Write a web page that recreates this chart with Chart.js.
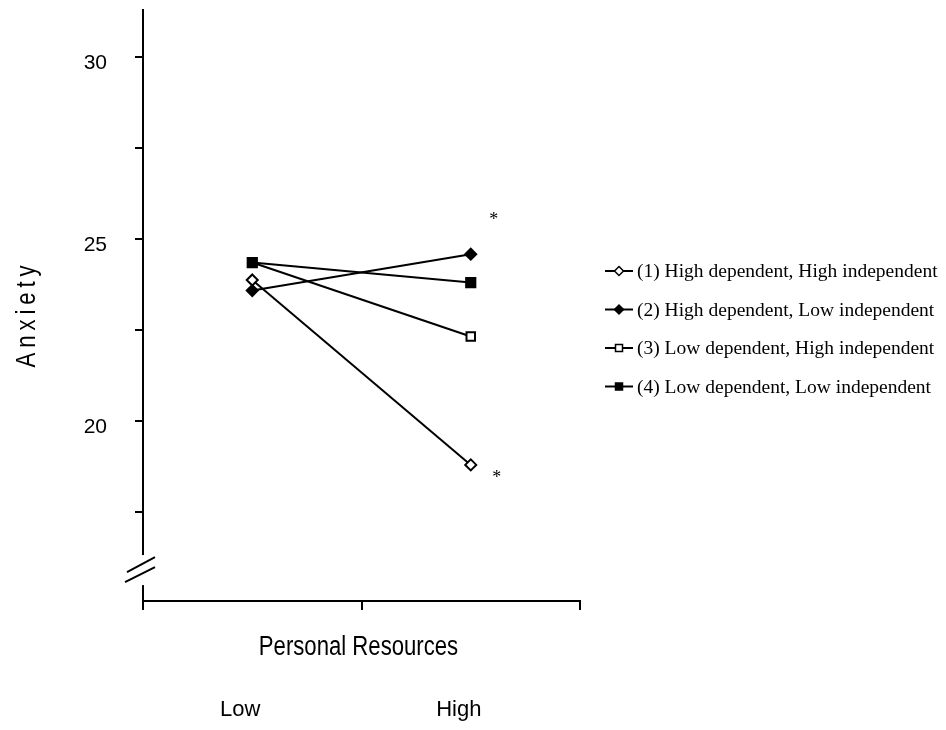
<!DOCTYPE html>
<html>
<head>
<meta charset="utf-8">
<title>Anxiety by Personal Resources</title>
<script src="https://cdn.jsdelivr.net/npm/chart.js@4.4.1/dist/chart.umd.min.js"></script>
<style>
  html, body { margin: 0; padding: 0; background: #fff; }
  canvas { display: block; }
</style>
</head>
<body>
<canvas id="chart" width="946" height="730"></canvas>
<script>
// ----- data -----
const levels = ['Low', 'High'];
const groupLabels = [
  '(1) High dependent, High independent',
  '(2) High dependent, Low independent',
  '(3) Low dependent, High independent',
  '(4) Low dependent, Low independent'
];
const group1 = [23.87, 18.79];
const group2 = [23.58, 24.58];
const group3 = [24.35, 22.32];
const group4 = [24.35, 23.80];
const yTicks = [17.5, 20, 22.5, 25, 27.5, 30];
const yLabelled = [20, 25, 30];
const starValues = [25.6, 18.52];   // significance asterisks beside "High"
const starShift = [23, 26];

const sans = '"Liberation Sans", Arial, sans-serif';
const serif = '"Liberation Serif", "Times New Roman", serif';
const squeeze = 0.82;   // fake the narrow face of the original

const series = [group1, group2, group3, group4];
const markStyle = ['rectRot', 'rectRot', 'rect', 'rect'];
const markFill = ['#fff', '#000', '#fff', '#000'];
const markRadius = [5.5, 5.5, 6, 6.5];

const datasets = series.map((vals, i) => ({
  label: groupLabels[i],
  data: vals,
  borderColor: '#000',
  borderWidth: 2,
  tension: 0,
  pointStyle: markStyle[i],
  pointRadius: markRadius[i],
  pointBackgroundColor: markFill[i],
  pointBorderColor: '#000',
  pointBorderWidth: 2,
  order: i === 3 ? 0 : 1   // filled square sits on top at "Low"
}));

function marker(ctx, style, fill, x, y, r) {
  ctx.beginPath();
  if (style === 'rectRot') {
    ctx.moveTo(x, y - r); ctx.lineTo(x + r, y); ctx.lineTo(x, y + r); ctx.lineTo(x - r, y);
  } else {
    ctx.rect(x - r, y - r, 2 * r, 2 * r);
  }
  ctx.closePath();
  ctx.fillStyle = fill;
  ctx.fill();
  ctx.stroke();
}

function narrowText(ctx, text, x, y, size, rot) {
  ctx.save();
  ctx.translate(x, y);
  if (rot) ctx.rotate(rot);
  ctx.scale(squeeze, 1);
  ctx.font = size + 'px ' + sans;
  ctx.fillText(text, 0, 0);
  ctx.restore();
}

const extras = {
  id: 'extras',
  afterDraw(chart) {
    const { ctx, chartArea, scales: { x, y } } = chart;
    ctx.save();

    // broken y axis
    const by = y.getPixelForValue(15.9);
    const ax = chartArea.left;
    ctx.fillStyle = '#fff';
    ctx.fillRect(ax - 5, by - 15, 10, 30);
    ctx.strokeStyle = '#000';
    ctx.lineWidth = 2;
    ctx.beginPath();
    ctx.moveTo(ax - 18, by + 12); ctx.lineTo(ax + 12, by - 3);
    ctx.moveTo(ax - 16, by + 2); ctx.lineTo(ax + 12, by - 13);
    ctx.stroke();

    ctx.fillStyle = '#000';
    ctx.textAlign = 'center';
    ctx.textBaseline = 'middle';

    // y title, letter spaced
    ctx.letterSpacing = '6px';
    narrowText(ctx, 'Anxiety', 28, 314, 27, -Math.PI / 2);
    ctx.letterSpacing = '0px';

    // x title sits between the axis and the Low/High labels
    narrowText(ctx, 'Personal Resources', (chartArea.left + chartArea.right) / 2 - 3, 648, 27);

    // asterisks
    ctx.font = '18px ' + serif;
    ctx.textBaseline = 'alphabetic';
    starValues.forEach((v, i) => {
      ctx.fillText('*', x.getPixelForValue(1) + starShift[i], y.getPixelForValue(v) + 8);
    });

    // legend
    ctx.font = '19.5px ' + serif;
    ctx.textAlign = 'left';
    ctx.textBaseline = 'middle';
    chart.data.datasets.forEach((ds, i) => {
      const ry = 271 + i * 38.5;
      ctx.strokeStyle = '#000';
      ctx.lineWidth = 2;
      ctx.beginPath();
      ctx.moveTo(605, ry); ctx.lineTo(633, ry);
      ctx.stroke();
      ctx.lineWidth = 1.5;
      marker(ctx, markStyle[i], markFill[i], 619, ry, markStyle[i] === 'rect' ? 3.5 : 4.5);
      ctx.fillStyle = '#000';
      ctx.fillText(ds.label, 637, ry + 1);
    });

    ctx.restore();
  }
};

new Chart(document.getElementById('chart'), {
  type: 'line',
  data: { labels: levels, datasets },
  plugins: [extras],
  options: {
    responsive: false,
    animation: false,
    events: [],
    layout: { padding: { top: 10, right: 366, bottom: 0, left: 0 } },
    plugins: { legend: { display: false }, tooltip: { enabled: false } },
    scales: {
      x: {
        offset: true,
        grid: { offset: true, drawOnChartArea: false, drawTicks: true, tickLength: 9, color: '#000', lineWidth: 2 },
        border: { display: true, color: '#000', width: 2 },
        ticks: { color: '#000', font: { family: sans, size: 22 }, padding: 87, labelOffset: -12 },
        afterFit: (s) => { s.height = 129; s.paddingLeft = 0; s.paddingRight = 0; }
      },
      y: {
        min: 15.05,
        max: 31.29,
        afterBuildTicks: (s) => { s.ticks = yTicks.map(v => ({ value: v })); },
        grid: { drawOnChartArea: false, drawTicks: true, tickLength: 8, color: '#000', lineWidth: 2 },
        border: { display: true, color: '#000', width: 2 },
        ticks: {
          color: '#000',
          font: { family: sans, size: 21 },
          padding: 28,
          labelOffset: 6,
          callback: (v) => yLabelled.includes(v) ? String(v) : ''
        },
        afterFit: (s) => { s.width = 143; s.paddingTop = 0; s.paddingBottom = 0; }
      }
    }
  }
});
</script>
</body>
</html>
